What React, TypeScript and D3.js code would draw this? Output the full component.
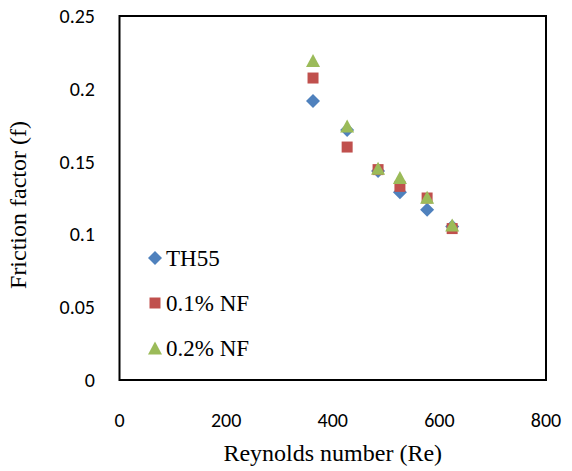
import React from "react";
import * as d3 from "d3";

const reynolds = [363, 427, 485, 526, 577, 624];
const th55 = [0.1916, 0.1717, 0.1435, 0.129, 0.117, 0.1055];
const nf01 = [0.2074, 0.16, 0.1445, 0.133, 0.125, 0.104];
const nf02 = [0.2195, 0.1745, 0.1455, 0.139, 0.1255, 0.1065];
const seriesNames = ["TH55", "0.1% NF", "0.2% NF"];
const seriesColors = ["#4F81BD", "#C0504D", "#9BBB59"];
const xTicks = [0, 200, 400, 600, 800];
const yTicks = [0, 0.05, 0.1, 0.15, 0.2, 0.25];

const W = 572;
const H = 471;
const left = 119.5;
const right = 546;
const top = 16;
const bottom = 380;

function markerPath(kind: number, cx: number, cy: number): string {
  const p = d3.path();
  if (kind === 0) {
    const r = 7;
    p.moveTo(cx, cy - r);
    p.lineTo(cx + r, cy);
    p.lineTo(cx, cy + r);
    p.lineTo(cx - r, cy);
    p.closePath();
  } else if (kind === 1) {
    const s = 5.5;
    p.rect(cx - s, cy - s, 2 * s, 2 * s);
  } else {
    const hw = 7;
    const hh = 6.5;
    p.moveTo(cx, cy - hh);
    p.lineTo(cx + hw, cy + hh);
    p.lineTo(cx - hw, cy + hh);
    p.closePath();
  }
  return p.toString();
}

export default function App() {
  const x = d3.scaleLinear().domain([0, 800]).range([left, right]);
  const y = d3.scaleLinear().domain([0, 0.25]).range([bottom, top]);
  const series = [th55, nf01, nf02];
  const tickFont = "Carlito, Calibri, 'Liberation Sans', Arial, sans-serif";
  const serif = "'Liberation Serif', 'Times New Roman', serif";
  const fmt = (v: number) => (v === 0 ? "0" : String(+v.toFixed(2)));

  return (
    <svg
      width={W}
      height={H}
      style={{ position: "absolute", left: 0, top: 0, background: "#fff" }}
    >
      <rect x={0} y={0} width={W} height={H} fill="#fff" />
      <rect
        x={left}
        y={top}
        width={right - left}
        height={bottom - top}
        fill="none"
        stroke="#000"
        strokeWidth={2}
      />
      {yTicks.map((t) => (
        <text
          key={"y" + t}
          x={95}
          y={y(t)}
          dy="0.35em"
          textAnchor="end"
          fontFamily={tickFont}
          fontSize={20}
          fill="#000"
        >
          {fmt(t)}
        </text>
      ))}
      {xTicks.map((t) => (
        <text
          key={"x" + t}
          x={x(t)}
          y={427}
          textAnchor="middle"
          fontFamily={tickFont}
          fontSize={20}
          fill="#000"
        >
          {t}
        </text>
      ))}
      <text
        x={(left + right) / 2}
        y={461}
        textAnchor="middle"
        fontFamily={serif}
        fontSize={24}
        fill="#000"
      >
        Reynolds number (Re)
      </text>
      <text
        transform={`translate(26,205) rotate(-90)`}
        textAnchor="middle"
        fontFamily={serif}
        fontSize={24}
        fill="#000"
      >
        Friction factor (f)
      </text>
      {series.map((vals, si) => (
        <g key={"s" + si}>
          {vals.map((v, i) => (
            <path
              key={i}
              d={markerPath(si, x(reynolds[i]), y(v))}
              fill={seriesColors[si]}
            />
          ))}
        </g>
      ))}
      {seriesNames.map((name, si) => {
        const cy = 258 + si * 45;
        return (
          <g key={"l" + si}>
            <path d={markerPath(si, 155, cy)} fill={seriesColors[si]} />
            <text
              x={166}
              y={cy + 8}
              fontFamily={serif}
              fontSize={23}
              fill="#000"
            >
              {name}
            </text>
          </g>
        );
      })}
    </svg>
  );
}
